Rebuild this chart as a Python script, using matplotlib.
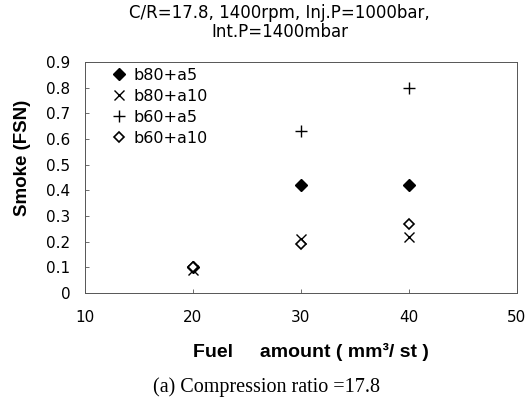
import matplotlib.pyplot as plt

plt.rcParams['font.family'] = ['DejaVu Sans']

fuel = [20, 30, 40]
b80_a5 = [0.10, 0.42, 0.42]
b80_a10 = [0.09, 0.21, 0.22]
b60_a5 = [0.10, 0.63, 0.80]
b60_a10 = [0.10, 0.19, 0.27]

fig = plt.figure(figsize=(5.28, 4.03), dpi=100)
ax = fig.add_axes([0.161, 0.273, 0.818, 0.573])

ax.plot(fuel, b80_a5, linestyle='none', marker='D', markersize=6, color='black', label='b80+a5')
ax.plot(fuel, b80_a10, linestyle='none', marker='x', markersize=7, color='black', mew=1.0, label='b80+a10')
ax.plot(fuel, b60_a5, linestyle='none', marker='+', markersize=9, color='black', mew=1.0, label='b60+a5')
ax.plot(fuel, b60_a10, linestyle='none', marker='D', markersize=5, markerfacecolor='white',
        markeredgecolor='black', mew=1.2, label='b60+a10')

ax.set_xlim(10, 50)
ax.set_ylim(0, 0.9)
ax.set_xticks([10, 20, 30, 40, 50])
ax.set_yticks([0, 0.1, 0.2, 0.3, 0.4, 0.5, 0.6, 0.7, 0.8, 0.9])
ax.set_yticklabels(['0', '0.1', '0.2', '0.3', '0.4', '0.5', '0.6', '0.7', '0.8', '0.9'])
ax.tick_params(direction='in', length=3, width=0.6, color='#555555', labelsize=11)
ax.tick_params(axis='y', pad=10.5)
ax.tick_params(axis='x', pad=12)
for s in ax.spines.values():
    s.set_linewidth(0.7)
    s.set_color('#555555')
    s.set_linestyle((0, (2, 1)))

fig.text(0.042, 0.608, 'Smoke (FSN)', rotation=90, ha='center', va='center',
         fontsize=13.5, fontweight='bold', family=['Liberation Sans', 'DejaVu Sans'])
fig.text(0.589, 0.127, 'Fuel     amount ( mm³/ st )', ha='center', va='center',
         fontsize=14, fontweight='bold', family=['Liberation Sans', 'DejaVu Sans'])

ax.legend(loc='upper left', bbox_to_anchor=(0.048, 0.99), frameon=False, fontsize=11.5,
          handletextpad=0.35, handlelength=1.2, labelspacing=0.38, borderaxespad=0, borderpad=0.2)

fig.text(0.53, 0.967, 'C/R=17.8, 1400rpm, Inj.P=1000bar,', ha='center', va='center', fontsize=12)
fig.text(0.53, 0.92, 'Int.P=1400mbar', ha='center', va='center', fontsize=12)
fig.text(0.504, 0.04, '(a) Compression ratio =17.8', ha='center', va='center', fontsize=14.5,
         family=['Liberation Serif', 'DejaVu Serif'])

fig.savefig('out.png', dpi=100)
